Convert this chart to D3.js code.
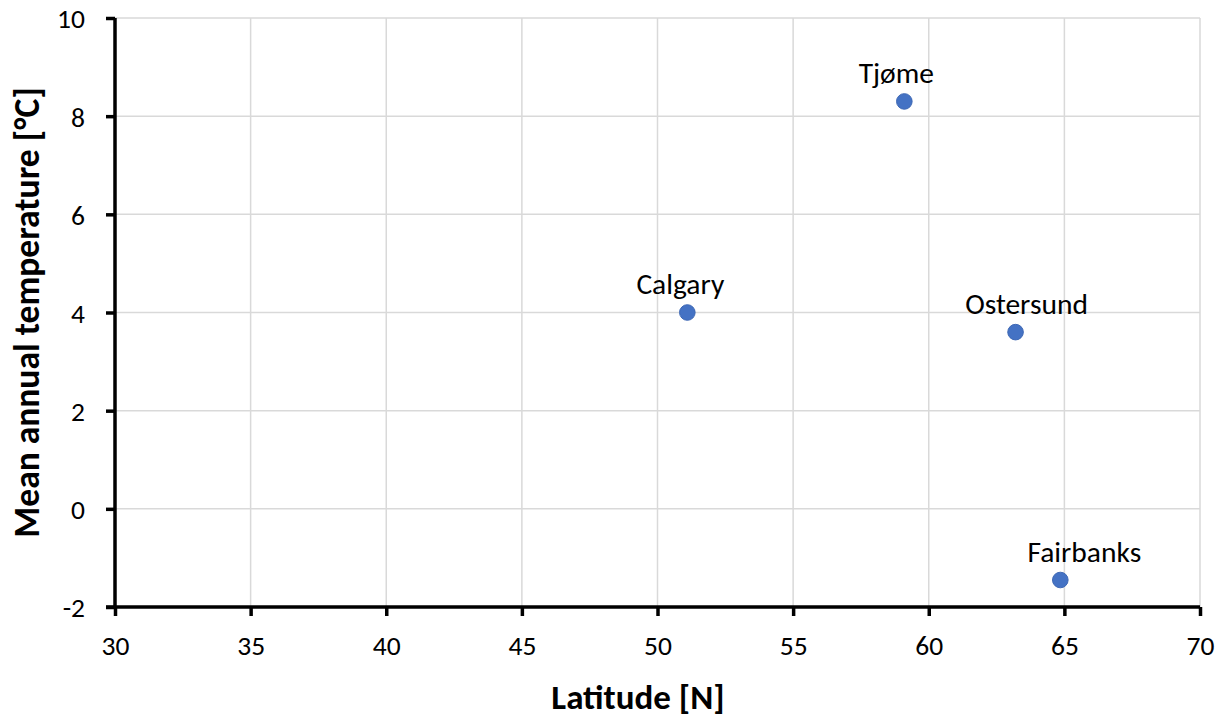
<!DOCTYPE html>
<html>
<head>
<meta charset="utf-8">
<script src="https://cdn.jsdelivr.net/npm/d3@7"></script>
<style>
  html, body { margin: 0; padding: 0; background: #fff; }
  svg { display: block; }
  text { font-family: Carlito, Calibri, Lato, "Noto Sans", sans-serif; fill: #000; }
</style>
</head>
<body>
<svg id="chart" width="1226" height="721"></svg>
<script>
// Station data: latitude and mean annual temperature
const cities = ["Tjøme", "Calgary", "Ostersund", "Fairbanks"];
const latitudes = [59.1, 51.1, 63.2, 64.85];
const temperatures = [8.3, 4.0, 3.6, -1.45];

const xTicks = [30, 35, 40, 45, 50, 55, 60, 65, 70];
const yTicks = [-2, 0, 2, 4, 6, 8, 10];

const xTitle = "Latitude [N]";
const yTitle = "Mean annual temperature [°C]";

// Hand-placed label nudges (horizontal, px) so labels clear the gridlines
const labelShift = { "Tjøme": -8, "Calgary": -7, "Ostersund": 11, "Fairbanks": 24 };

const svg = d3.select("#chart");
const W = 1226, H = 721;
const m = { left: 115, right: 26, top: 18, bottom: 114 };
const FONT = "Carlito, Calibri, Lato, 'Noto Sans', sans-serif";

const x = d3.scaleLinear().domain([30, 70]).range([m.left, W - m.right]);
const y = d3.scaleLinear().domain([-2, 10]).range([H - m.bottom, m.top]);

// Gridlines
const grid = svg.append("g");
grid.selectAll("line.gx").data(xTicks.slice(1)).join("line")
  .attr("x1", d => x(d)).attr("x2", d => x(d))
  .attr("y1", y(-2)).attr("y2", y(10))
  .attr("stroke", "#d9d9d9").attr("stroke-width", 1.5);
grid.selectAll("line.gy").data(yTicks.slice(1)).join("line")
  .attr("x1", x(30)).attr("x2", x(70))
  .attr("y1", d => y(d)).attr("y2", d => y(d))
  .attr("stroke", "#d9d9d9").attr("stroke-width", 1.5);

// Axes (plain hyphen for negatives)
const plain = d => String(d);
const xAxis = d3.axisBottom(x).tickValues(xTicks).tickSize(9).tickPadding(19).tickFormat(plain);
const yAxis = d3.axisLeft(y).tickValues(yTicks).tickSize(9).tickPadding(21).tickFormat(plain);

const gx = svg.append("g").attr("transform", `translate(0,${y(-2)})`).call(xAxis);
const gy = svg.append("g").attr("transform", `translate(${x(30)},0)`).call(yAxis);

[gx, gy].forEach(g => {
  g.select(".domain").attr("stroke", "#000").attr("stroke-width", 3.5);
  g.selectAll(".tick line").attr("stroke", "#000").attr("stroke-width", 3.5);
  g.selectAll(".tick text").attr("font-size", 27.5).attr("fill", "#000")
    .style("font-family", FONT);
});
gx.select(".domain").attr("d", `M${x(30) - 9},0H${x(70)}`);
gy.select(".domain").attr("d", `M0,${y(-2)}V${y(10)}`);
gy.selectAll(".tick text").attr("dy", "0.36em");

// Axis titles
svg.append("text")
  .attr("x", 638).attr("y", 709)
  .attr("text-anchor", "middle").attr("font-size", 35).attr("font-weight", "bold")
  .text(xTitle);

svg.append("text")
  .attr("transform", `translate(39,${(y(-2) + y(10)) / 2}) rotate(-90)`)
  .attr("text-anchor", "middle").attr("font-size", 35.5).attr("font-weight", "bold")
  .text(yTitle);

// Points
const pts = cities.map((c, i) => ({ name: c, lat: latitudes[i], t: temperatures[i] }));

svg.append("g").selectAll("circle").data(pts).join("circle")
  .attr("cx", d => x(d.lat)).attr("cy", d => y(d.t)).attr("r", 7.8)
  .attr("fill", "#4472c4").attr("stroke", "#3f69b5").attr("stroke-width", 1);

svg.append("g").selectAll("text").data(pts).join("text")
  .attr("x", d => x(d.lat) + (labelShift[d.name] || 0))
  .attr("y", d => y(d.t) - 18.5)
  .attr("text-anchor", "middle").attr("font-size", 29.5)
  .text(d => d.name);
</script>
</body>
</html>
